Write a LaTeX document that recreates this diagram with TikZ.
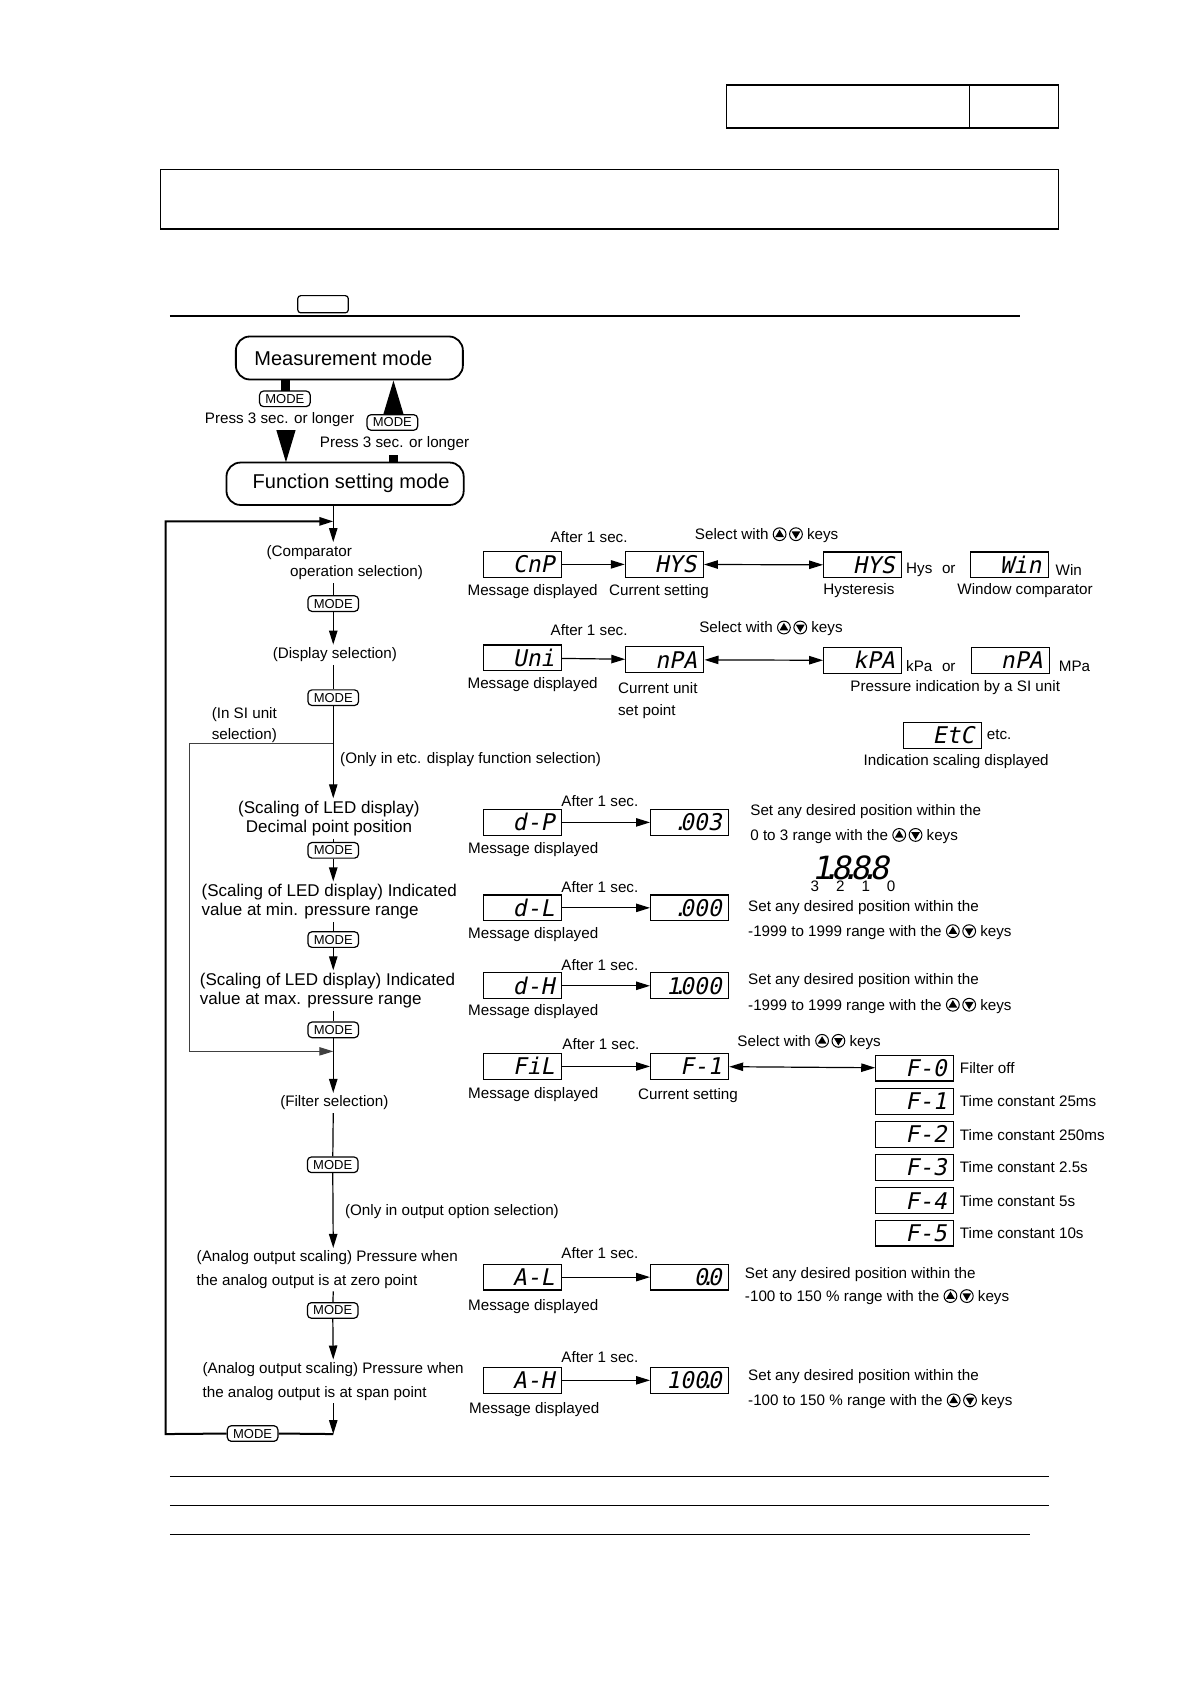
\documentclass[tikz,border=0pt]{standalone}
\usepackage{fontspec}
\setmainfont{Liberation Sans}
\newfontfamily\lcdfont[FakeSlant=0.2]{DejaVu Sans Mono}
\usepackage{tikz}
\usetikzlibrary{arrows.meta, positioning}

\newcommand\txtlead[1]{\fontsize{7.6}{#1}\selectfont}
\newcommand\ledlead[1]{\fontsize{8.5}{#1}\selectfont}
\newcommand\segdot{\makebox[0pt]{.}}
\newcommand\upkey{\tikz[baseline=-2.7pt]{\draw[line width=0.5pt] (0pt,0pt) circle (3.2pt);
  \fill (0pt,2.3pt) -- (-2.2pt,-1.4pt) -- (2.2pt,-1.4pt) -- cycle;}}
\newcommand\downkey{\tikz[baseline=-2.7pt]{\draw[line width=0.5pt] (0pt,0pt) circle (3.2pt);
  \fill (0pt,-2.3pt) -- (-2.2pt,1.4pt) -- (2.2pt,1.4pt) -- cycle;}}

\begin{document}
\begin{tikzpicture}[x=0.5375pt, y=-0.5375pt, line width=0.6pt,
    >={Triangle[length=7pt,width=4.2pt]}]
    \tikzstyle{modebox}=[draw, rounded corners=7pt, line width=0.9pt, inner sep=0pt, font=\fontsize{10}{12}\selectfont]
    \tikzstyle{modekey}=[draw, fill=white, rounded corners=2pt, line width=0.6pt, inner sep=0pt,
      minimum width=25.3pt, minimum height=7.8pt, font=\fontsize{6.5}{7}\selectfont]
    \tikzstyle{lcd}=[draw, line width=0.6pt, inner xsep=3.5pt, inner ysep=0pt, text width=32pt, align=right,
      text height=8.3pt, text depth=0pt, minimum height=12.9pt, font=\lcdfont\fontsize{11.5}{12}\selectfont]
    \tikzstyle{txt}=[inner sep=0pt, outer xsep=0pt, outer ysep=1.5pt, font=\txtlead{10.4}]
    \tikzstyle{ltxt}=[txt, anchor=west, align=left]

    \useasboundingbox (0,0) rectangle (1107,1566.5);

    % page frame
    \draw (676,79) rectangle (985,119);
    \draw (902,79) -- (902,119);
    \draw (149,158) rectangle (985,213);
    \draw[rounded corners=1.5pt] (277,275) rectangle (324,291);
    \draw[line width=1.3pt] (158,294) -- (949,294);

    % modes
    \node[modebox, minimum width=113.5pt, minimum height=21.5pt] (MM) at (325,333) {Measurement mode\hspace*{6pt}};
    \node[modebox, minimum width=118.6pt, minimum height=21.2pt] (FM) at (321,450) {\hspace*{6pt}Function setting mode};

    \fill (261,353) rectangle (270,364);
    \node[modekey] (K0) at (265,371) {MODE};
    \node[txt] (P1) at (260,390) {Press 3 sec. or longer};
    \fill (257,400) -- (275,400) -- (266,430) -- cycle;

    \fill (366,354) -- (375.3,385) -- (356.7,385) -- cycle;
    \node[modekey] (K9) at (365,393) {MODE};
    \node[txt] (P2) at (367,413) {Press 3 sec. or longer};
    \fill (362,423) rectangle (370,431);

    % main column
    \coordinate (col) at (310,0);
    \coordinate (J1) at (310,485);
    \coordinate (J2) at (310,692);
    \coordinate (J3) at (310,978);
    \coordinate (J4) at (310,1334);

    \node[ltxt] (C1) at (248,523.3) {(Comparator\\\hspace*{11.8pt}operation selection)};
    \node[modekey] (K1) at (310,561.5) {MODE};
    \node[txt] (C2) at (311.5,609) {(Display selection)};
    \node[modekey] (K2) at (310,649) {MODE};
    \node[ltxt] (SI) at (197,674.5) {(In SI unit\\selection)};
    \node[ltxt] (E1) at (316.5,707) {(Only in etc. display function selection)};
    \node[txt, align=center, font=\ledlead{9.3}] (C3) at (306,761.4) {(Scaling of LED display)\\Decimal point position};
    \node[modekey] (K3) at (310,791) {MODE};
    \node[ltxt, font=\ledlead{9.4}] (C4) at (187.6,838.8) {(Scaling of LED display) Indicated\\value at min. pressure range};
    \node[modekey] (K4) at (310,874) {MODE};
    \node[ltxt, font=\ledlead{9.4}] (C5) at (186,921.5) {(Scaling of LED display) Indicated\\value at max. pressure range};
    \node[modekey] (K5) at (310,958) {MODE};
    \node[txt] (C6) at (311,1026) {(Filter selection)};
    \node[modekey] (K6) at (309.5,1083.5) {MODE};
    \node[ltxt] (E2) at (321,1127) {(Only in output option selection)};
    \node[ltxt, font=\txtlead{11.6}] (C7) at (183,1181) {(Analog output scaling) Pressure when\\the analog output is at zero point};
    \node[modekey] (K7) at (309.5,1219) {MODE};
    \node[ltxt, font=\txtlead{11.8}] (C8) at (188.5,1285) {(Analog output scaling) Pressure when\\the analog output is at span point};
    \node[modekey] (K8) at (235,1333.5) {MODE};

    \draw[->] (FM.south -| col) -- (col |- C1.north);
    \draw (col |- C1.south) -- (K1);
    \draw[->] (K1) -- (col |- C2.north);
    \draw (col |- C2.south) -- (K2);
    \draw[->] (K2) -- (col |- C3.north);
    \draw (col |- C3.south) -- (K3);
    \draw[->] (K3) -- (col |- C4.north);
    \draw (col |- C4.south) -- (K4);
    \draw[->] (K4) -- (col |- C5.north);
    \draw (col |- C5.south) -- (K5);
    \draw[->] (K5) -- (col |- C6.north);
    \draw (col |- C6.south) -- (K6);
    \draw[->] (K6) -- (col |- C7.north);
    \draw (col |- C7.south) -- (K7);
    \draw[->] (K7) -- (col |- C8.north);
    \draw[->] (col |- C8.south) -- (J4);
    \draw[->, line width=0.5pt, black!75] (J2) -- (176,692) -- (176,978) -- (J3);
    \draw[line width=1pt] (J4) -- (K8.east);
    \draw[->, line width=1pt] (K8.west) -- (154,1334) -- (154,485) -- (J1);

    % comparator
    \node[lcd] (M1) at (486,525) {CnP};
    \node[lcd] (V1) at (618,525) {HYS};
    \node[lcd] (O1) at (802.5,525.5) {HYS};
    \node[lcd] (O2) at (939,525.5) {Win};
    \node[txt] (A1) at (548,500) {After 1 sec.};
    \node[ltxt] (S1) at (646.5,497.7) {Select with \upkey\,\downkey\ keys};
    \node[txt] (D1) at (495.5,550.4) {Message displayed};
    \node[txt] (N1) at (613,550.4) {Current setting};
    \node[ltxt, font=\txtlead{10}] (L1) at (843,530) {Hys\hspace{4.8pt}or};
    \node[ltxt, font=\txtlead{10}] (L2) at (982,530) {Win};
    \node[txt] (N2) at (799,549.8) {Hysteresis};
    \node[txt] (N3) at (953.5,549.8) {Window comparator};

    % display
    \node[lcd] (M2) at (486,612) {Uni};
    \node[lcd] (V2) at (618.5,613.7) {nPA};
    \node[lcd] (O3) at (802.5,614.3) {kPA};
    \node[lcd] (O4) at (940,614.3) {nPA};
    \node[txt] (A2) at (548,586) {After 1 sec.};
    \node[ltxt] (S2) at (650.5,584.5) {Select with \upkey\,\downkey\ keys};
    \node[txt] (D2) at (495.5,637) {Message displayed};
    \node[ltxt, font=\txtlead{11.3}] (N4) at (575,651.5) {Current unit\\set point};
    \node[ltxt, font=\txtlead{10}] (L3) at (843,620) {kPa\hspace{4.8pt}or};
    \node[ltxt, font=\txtlead{10}] (L4) at (985,620) {MPa};
    \node[txt] (N5) at (888.6,640) {Pressure indication by a SI unit};
    \node[lcd] (O5) at (876.5,684) {EtC};
    \node[ltxt] (L5) at (918,683.7) {etc.};
    \node[txt] (N6) at (889.5,708.6) {Indication scaling displayed};

    % decimal point, min., max.
    \node[lcd] (M3) at (486,765) {d-P};
    \node[lcd] (V3) at (641.5,765) {\segdot003};
    \node[txt] (A3) at (558,745) {After 1 sec.};
    \node[txt] (D3) at (496,790) {Message displayed};
    \node[ltxt, font=\txtlead{12.4}] (R3) at (698,766.5) {Set any desired position within the\\0 to 3 range with the \upkey\,\downkey\ keys};
    \node[inner sep=0pt, font=\lcdfont\fontsize{16}{16}\selectfont] (B1) at (791,807) {1\segdot8\segdot8\segdot8};
    \node[inner sep=0pt, font=\txtlead{8}] (B2) at (793.5,824.5) {3\hspace{8.5pt}2\hspace{8.5pt}1\hspace{8.5pt}0};

    \node[lcd] (M4) at (486,844.5) {d-L};
    \node[lcd] (V4) at (641.5,844.5) {\segdot000};
    \node[txt] (A4) at (558,825) {After 1 sec.};
    \node[txt] (D4) at (496,869) {Message displayed};
    \node[ltxt, font=\txtlead{12.4}] (R4) at (696,856) {Set any desired position within the\\-1999 to 1999 range with the \upkey\,\downkey\ keys};

    \node[lcd] (M5) at (486,917) {d-H};
    \node[lcd] (V5) at (641.5,917) {1\segdot000};
    \node[txt] (A5) at (558,898) {After 1 sec.};
    \node[txt] (D5) at (496,941) {Message displayed};
    \node[ltxt, font=\txtlead{12.9}] (R5) at (696,924) {Set any desired position within the\\-1999 to 1999 range with the \upkey\,\downkey\ keys};

    % filter
    \node[lcd] (M6) at (486,992) {FiL};
    \node[lcd] (V6) at (641.5,992) {F-1};
    \node[txt] (A6) at (559,971) {After 1 sec.};
    \node[ltxt] (S6) at (686,969) {Select with \upkey\,\downkey\ keys};
    \node[txt] (D6) at (496,1018) {Message displayed};
    \node[txt] (N7) at (640,1019) {Current setting};
    \node[lcd] (F0) at (851,993.5) {F-0};
    \node[lcd] (F1) at (851,1024.5) {F-1};
    \node[lcd] (F2) at (851,1055.5) {F-2};
    \node[lcd] (F3) at (851,1086) {F-3};
    \node[lcd] (F4) at (851,1117) {F-4};
    \node[lcd] (F5) at (851,1147) {F-5};
    \node[ltxt] (T0) at (893,993.5) {Filter off};
    \node[ltxt] (T1) at (893,1024.5) {Time constant 25ms};
    \node[ltxt] (T2) at (893,1055.5) {Time constant 250ms};
    \node[ltxt] (T3) at (893,1086) {Time constant 2.5s};
    \node[ltxt] (T4) at (893,1117) {Time constant 5s};
    \node[ltxt] (T5) at (893,1147) {Time constant 10s};

    % analog output
    \node[lcd] (M7) at (486,1188) {A-L};
    \node[lcd] (V7) at (641.5,1188) {0\segdot0};
    \node[txt] (A7) at (558,1166) {After 1 sec.};
    \node[txt] (D7) at (496,1215) {Message displayed};
    \node[ltxt, font=\txtlead{11.3}] (R7) at (693,1196.5) {Set any desired position within the\\-100 to 150 \% range with the \upkey\,\downkey\ keys};

    \node[lcd] (M8) at (486,1284) {A-H};
    \node[lcd] (V8) at (641.5,1284) {100\segdot0};
    \node[txt] (A8) at (558,1262) {After 1 sec.};
    \node[txt] (D8) at (497,1311) {Message displayed};
    \node[ltxt, font=\txtlead{12.4}] (R8) at (696,1292.5) {Set any desired position within the\\-100 to 150 \% range with the \upkey\,\downkey\ keys};

    \path[->]
    (M1) edge (V1)
    (M2) edge (V2)
    (M3) edge (V3)
    (M4) edge (V4)
    (M5) edge (V5)
    (M6) edge (V6)
    (M7) edge (V7)
    (M8) edge (V8)
    ;
    \path[<->]
    (V1) edge (O1)
    (V2) edge (O3)
    (V6) edge (F0)
    ;

    % rules at the foot
    \draw[line width=0.5pt] (158,1373) -- (976,1373);
    \draw[line width=0.5pt] (158,1400) -- (976,1400);
    \draw[line width=0.5pt] (158,1427) -- (958,1427);
\end{tikzpicture}
\end{document}
